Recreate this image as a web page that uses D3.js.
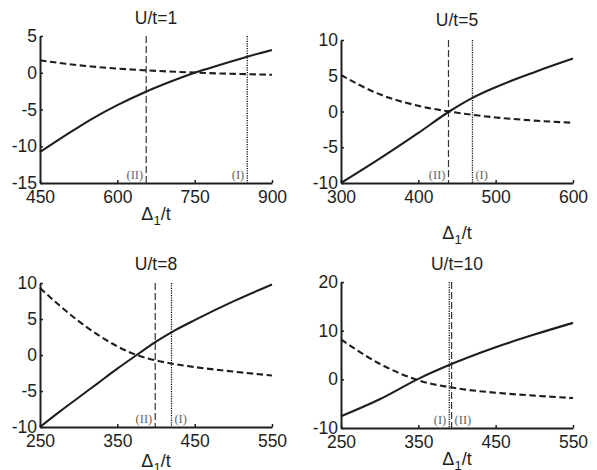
<!DOCTYPE html>
<html>
<head>
<meta charset="utf-8">
<script src="https://cdn.jsdelivr.net/npm/d3@7"></script>
<style>
  html, body { margin: 0; padding: 0; background: #fff; }
  svg { display: block; font-family: "Liberation Sans", Arial, sans-serif; }
</style>
</head>
<body>
<div id="chart"></div>
<script>
// panel values
const titles = ['U/t=1', 'U/t=5', 'U/t=8', 'U/t=10']
const xDomains = [[450, 900], [300, 600], [250, 550], [250, 550]]
const yDomains = [[-15, 5], [-10, 10], [-10, 10], [-10, 20]]
const xTickVals = [
  [450, 600, 750, 900],
  [300, 400, 500, 600],
  [250, 350, 450, 550],
  [250, 350, 450, 550]
]
const yTickVals = [
  [-15, -10, -5, 0, 5],
  [-10, -5, 0, 5, 10],
  [-10, -5, 0, 5, 10],
  [-10, 0, 10, 20]
]
const sampleX = [
  [450, 500, 550, 600, 650, 700, 750, 800, 850, 900],
  [300, 350, 400, 440, 470, 500, 550, 600],
  [250, 275, 300, 325, 350, 375, 400, 425, 450, 500, 550],
  [250, 300, 350, 400, 450, 500, 550]
]
const solidY = [
  [-10.8, -8.5, -6.3, -4.4, -2.75, -1.3, 0, 1.1, 2.15, 3.1],
  [-10, -6.6, -3.0, 0, 1.9, 3.4, 5.5, 7.4],
  [-10, -7.9, -5.9, -3.9, -1.9, 0, 1.85, 3.45, 4.85, 7.45, 9.8],
  [-7.6, -4.1, 0.1, 3.6, 6.6, 9.2, 11.6]
]
const dashedY = [
  [1.7, 1.22, 0.85, 0.57, 0.35, 0.17, 0.02, -0.1, -0.19, -0.27],
  [5.1, 2.4, 0.8, 0, -0.46, -0.83, -1.27, -1.57],
  [9.3, 6.9, 4.7, 2.8, 1.2, 0, -0.75, -1.28, -1.68, -2.3, -2.85],
  [8.2, 3.2, -0.2, -1.85, -2.75, -3.35, -3.85]
]
// vertical markers (II) dashed and (I) dotted
const markerII = [656, 439, 399, 393]
const markerI = [852, 470, 420, 390]

// layout of the four panels
const layout = [
  { x0: 40, x1: 272, y0: 36, y1: 183, titleY: 24, labelY: 220, sideII: -1, sideI: -1 },
  { x0: 341, x1: 573, y0: 40, y1: 183, titleY: 25.5, labelY: 239, sideII: -1, sideI: 1 },
  { x0: 40, x1: 272, y0: 283, y1: 427, titleY: 270, labelY: 467, sideII: -1, sideI: 1 },
  { x0: 341, x1: 573, y0: 282, y1: 428, titleY: 270, labelY: 465, sideII: 1, sideI: -1 }
]

const svg = d3.select('#chart').append('svg')
  .attr('width', 597)
  .attr('height', 470)

const ink = '#1e1e1e'

titles.forEach((title, i) => {
  const L = layout[i]
  const x = d3.scaleLinear().domain(xDomains[i]).range([L.x0, L.x1])
  const y = d3.scaleLinear().domain(yDomains[i]).range([L.y1, L.y0])
  const g = svg.append('g')

  // vertical marker lines
  const addMarker = (val, dash, width, color, text, side) => {
    g.append('line')
      .attr('x1', x(val)).attr('x2', x(val))
      .attr('y1', y(yDomains[i][1])).attr('y2', y(yDomains[i][0]))
      .attr('stroke', color)
      .attr('stroke-width', width)
      .attr('stroke-dasharray', dash)
    g.append('text')
      .attr('x', x(val) + side * 3)
      .attr('y', L.y1 - 4.5)
      .attr('text-anchor', side < 0 ? 'end' : 'start')
      .attr('font-family', '"Liberation Serif", "DejaVu Serif", serif')
      .attr('font-size', 12.5)
      .attr('fill', '#666')
      .text(text)
  }
  addMarker(markerII[i], '7,3', 1.2, '#333', '(II)', L.sideII)
  addMarker(markerI[i], '1.2,1.2', 1.3, '#111', '(I)', L.sideI)

  // curves
  const pts = (ys) => sampleX[i].map((v, k) => [v, ys[k]])
  const lineGen = d3.line()
    .x(d => x(d[0]))
    .y(d => y(d[1]))
    .curve(d3.curveMonotoneX)

  g.append('path')
    .attr('d', lineGen(pts(dashedY[i])))
    .attr('fill', 'none')
    .attr('stroke', ink)
    .attr('stroke-width', 2.1)
    .attr('stroke-dasharray', '6.5,3.5')

  g.append('path')
    .attr('d', lineGen(pts(solidY[i])))
    .attr('fill', 'none')
    .attr('stroke', ink)
    .attr('stroke-width', 2.1)

  // axes, matlab style inward ticks
  const xAxis = g.append('g')
    .attr('transform', `translate(0,${L.y1})`)
    .call(d3.axisBottom(x).tickValues(xTickVals[i]).tickSize(-3).tickSizeOuter(0).tickPadding(8).tickFormat(d3.format('d')))
  const yAxis = g.append('g')
    .attr('transform', `translate(${L.x0},0)`)
    .call(d3.axisLeft(y).tickValues(yTickVals[i]).tickSize(-3).tickSizeOuter(0).tickPadding(3).tickFormat(d => d3.format('d')(d).replace('−', '-')))

  ;[xAxis, yAxis].forEach(a => {
    a.attr('font-family', null).attr('font-size', null)
    a.select('.domain').attr('stroke', ink).attr('stroke-width', 2)
    a.selectAll('.tick line').attr('stroke', ink).attr('stroke-width', 1.5)
    a.selectAll('.tick text').attr('fill', ink).attr('font-size', 17.5)
  })
  xAxis.selectAll('.tick text').attr('dy', '0.71em')

  // title
  g.append('text')
    .attr('x', (L.x0 + L.x1) / 2)
    .attr('y', L.titleY)
    .attr('text-anchor', 'middle')
    .attr('font-size', 17.5)
    .attr('fill', ink)
    .text(title)

  // x label Δ1/t
  const lab = g.append('text')
    .attr('x', (L.x0 + L.x1) / 2)
    .attr('y', L.labelY)
    .attr('text-anchor', 'middle')
    .attr('font-size', 18)
    .attr('fill', ink)
  lab.append('tspan').text('Δ')
  lab.append('tspan').attr('font-size', 13).attr('dy', 5).text('1')
  lab.append('tspan').attr('dy', -5).text('/t')
})
</script>
</body>
</html>
